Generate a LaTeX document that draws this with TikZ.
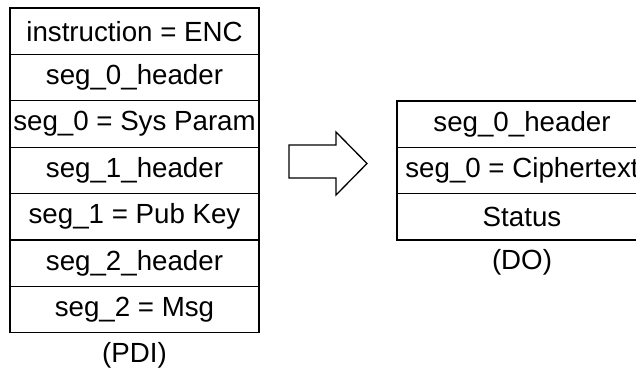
\documentclass[tikz,border=0pt]{standalone}
\usepackage{fontspec}
\setmainfont{Liberation Sans}
\begin{document}
\begin{tikzpicture}[x=1pt,y=-1pt,
  cell/.style={draw=black,line width=1.3pt,rectangle,minimum width=249pt,minimum height=46.4pt,inner sep=0pt,font=\fontsize{27.7}{32}\selectfont},
  rcell/.style={cell,minimum width=250pt,minimum height=46.3pt},
  lbl/.style={inner sep=0pt,font=\fontsize{27.7}{32}\selectfont},
  bigarrow/.style={draw=black,line width=1.3pt,line join=miter}]
\useasboundingbox (0,0) rectangle (636,373);
\clip (0,0) rectangle (636,373);
\node[cell] (i) at (134.5,31.2) {instruction = ENC};
\node[cell] (h0) at (134.5,77.6) {seg\_0\_header};
\node[cell] (s0) at (134.5,124.0) {seg\_0 = Sys Param};
\node[cell] (h1) at (134.5,170.4) {seg\_1\_header};
\node[cell] (s1) at (134.5,216.8) {seg\_1 = Pub Key};
\node[cell] (h2) at (134.5,263.2) {seg\_2\_header};
\node[cell] (s2) at (134.5,309.6) {seg\_2 = Msg};
\node[lbl] (pdi) at (134.5,355) {(PDI)};
\draw[bigarrow] (289,145) -- (336,145) -- (336,132) -- (367,163.5) -- (336,195) -- (336,178) -- (289,178) -- cycle;
\node[rcell] (oh) at (522,124.2) {seg\_0\_header};
\node[rcell] (oc) at (522,170.5) {seg\_0 = Ciphertext};
\node[rcell] (os) at (522,216.8) {Status};
\node[lbl] (do) at (522,262) {(DO)};
\end{tikzpicture}
\end{document}
